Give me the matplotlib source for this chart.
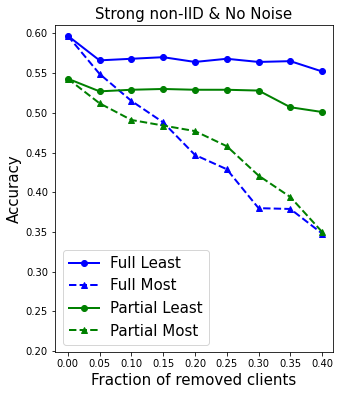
import matplotlib
matplotlib.use("Agg")
import matplotlib.pyplot as plt

fractions = [0.00, 0.05, 0.10, 0.15, 0.20, 0.25, 0.30, 0.35, 0.40]
full_least = [0.597, 0.566, 0.568, 0.570, 0.564, 0.568, 0.564, 0.565, 0.552]
full_most = [0.597, 0.549, 0.515, 0.488, 0.447, 0.429, 0.380, 0.379, 0.348]
partial_least = [0.543, 0.527, 0.529, 0.530, 0.529, 0.529, 0.528, 0.507, 0.501]
partial_most = [0.543, 0.512, 0.491, 0.484, 0.477, 0.458, 0.421, 0.394, 0.350]

DPI = 72
fig = plt.figure(figsize=(341/DPI, 394/DPI), dpi=DPI)
ax = fig.add_axes([55/341, 1-352/394, (333-55)/341, (352-25)/394])
ax.plot(fractions, full_least, '-o', color='blue', label='Full Least', markersize=6, linewidth=2)
ax.plot(fractions, full_most, '--^', color='blue', label='Full Most', markersize=6, linewidth=2)
ax.plot(fractions, partial_least, '-o', color='green', label='Partial Least', markersize=6, linewidth=2)
ax.plot(fractions, partial_most, '--^', color='green', label='Partial Most', markersize=6, linewidth=2)
ax.set_xticks(fractions)
ax.set_xticklabels([f"{v:.2f}" for v in fractions])
ax.set_ylim(0.199, 0.6105)
ax.set_xlim(-0.02, 0.417)
ax.tick_params(labelsize=10)
ax.set_title('Strong non-IID & No Noise', fontsize=15)
ax.set_xlabel('Fraction of removed clients', fontsize=15)
ax.set_ylabel('Accuracy', fontsize=15)
ax.legend(loc='lower left', fontsize=15, handlelength=2)
fig.savefig('out.png', dpi=DPI)
